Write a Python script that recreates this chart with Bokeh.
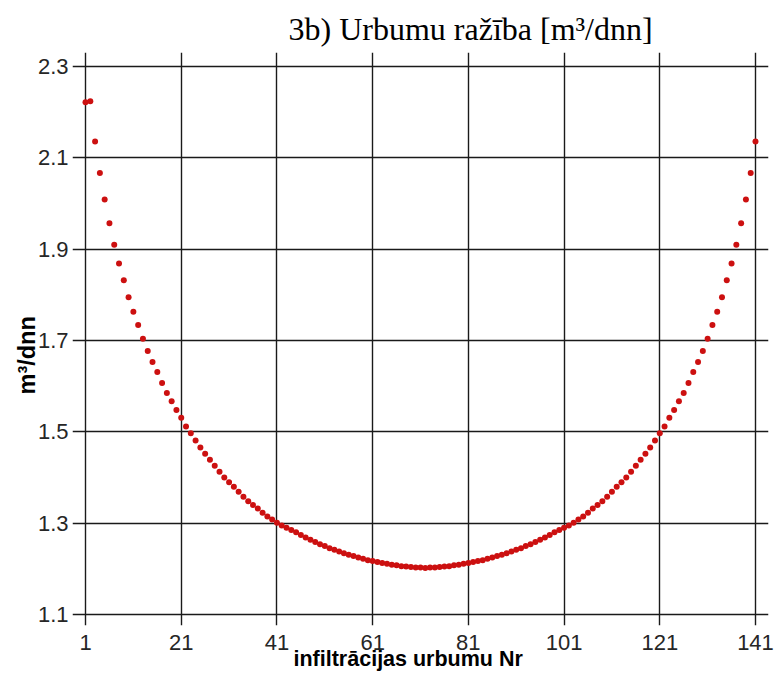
from bokeh.plotting import figure
from bokeh.models import Range1d, FixedTicker, Title
from bokeh.embed import file_html
from bokeh.resources import INLINE

# ---- data ----
well_nr = list(range(1, 142))
yield_m3 = [
    2.222, 2.224, 2.136, 2.067, 2.009, 1.957, 1.910, 1.869, 1.832, 1.795,
    1.763, 1.734, 1.704, 1.677, 1.653, 1.631, 1.607, 1.585, 1.567, 1.548,
    1.531, 1.512, 1.497, 1.481, 1.466, 1.452, 1.439, 1.426, 1.413, 1.400,
    1.390, 1.380, 1.369, 1.358, 1.348, 1.340, 1.332, 1.323, 1.315, 1.308,
    1.301, 1.295, 1.290, 1.285, 1.280, 1.274, 1.269, 1.264, 1.259, 1.254,
    1.250, 1.245, 1.242, 1.238, 1.234, 1.231, 1.228, 1.225, 1.222, 1.219,
    1.217, 1.215, 1.213, 1.211, 1.209, 1.208, 1.206, 1.205, 1.204, 1.203,
    1.203, 1.202, 1.203, 1.203, 1.204, 1.205, 1.206, 1.208, 1.209, 1.211,
    1.213, 1.215, 1.217, 1.219, 1.222, 1.225, 1.228, 1.231, 1.234, 1.238,
    1.242, 1.245, 1.250, 1.254, 1.259, 1.264, 1.269, 1.274, 1.280, 1.285,
    1.290, 1.295, 1.301, 1.308, 1.315, 1.323, 1.332, 1.340, 1.348, 1.358,
    1.369, 1.380, 1.390, 1.400, 1.413, 1.426, 1.439, 1.452, 1.466, 1.481,
    1.497, 1.512, 1.531, 1.548, 1.567, 1.585, 1.607, 1.631, 1.653, 1.677,
    1.704, 1.734, 1.763, 1.795, 1.832, 1.869, 1.910, 1.957, 2.009, 2.067,
    2.136,
]
x_ticks = [1, 21, 41, 61, 81, 101, 121, 141]
y_ticks = [1.1, 1.3, 1.5, 1.7, 1.9, 2.1, 2.3]
title_text = "3b) Urbumu ražība [m³/dnn]"
x_label_text = "infiltrācijas urbumu Nr"
y_label_text = "m³/dnn"

p = figure(
    width=776, height=674, output_backend="svg", toolbar_location=None,
    title=None,
    x_range=Range1d(-1.72, 143.72), y_range=Range1d(1.076, 2.331),
    min_border_left=72, min_border_right=8, min_border_top=52, min_border_bottom=49,
    background_fill_color="white", border_fill_color="white",
)
p.outline_line_color = None

for ax, ticks in ((p.xaxis, x_ticks), (p.yaxis, y_ticks)):
    ax.ticker = FixedTicker(ticks=ticks)
    ax.axis_line_color = None
    ax.major_tick_line_color = None
    ax.minor_tick_line_color = None
    ax.major_label_text_font = "Liberation Sans"
    ax.major_label_text_color = "#262626"
p.xaxis.major_label_text_font_size = "22px"
p.yaxis.major_label_text_font_size = "22px"
p.xaxis.major_label_standoff = 3
p.yaxis.major_label_standoff = -2

for g in (p.xgrid, p.ygrid):
    g.grid_line_color = "#1a1a1a"
    g.grid_line_width = 1.4
    g.grid_line_alpha = 1.0

p.scatter(well_nr, yield_m3, size=6, fill_color="#cc1010", line_color=None)

p.add_layout(Title(text=title_text, align="left", offset=216, vertical_align="bottom",
                   standoff=12, text_font="Liberation Serif", text_font_size="32px",
                   text_font_style="normal", text_color="black"), "above")
p.add_layout(Title(text=x_label_text, align="left", offset=221, vertical_align="top",
                   standoff=-12, text_font="Liberation Sans", text_font_size="21.5px",
                   text_font_style="bold", text_color="black"), "below")
p.add_layout(Title(text=y_label_text, align="left", offset=231, vertical_align="bottom",
                   standoff=-10, text_font="Liberation Sans", text_font_size="23.5px",
                   text_font_style="bold", text_color="black"), "left")

open("out.html", "w").write(file_html(p, INLINE))
